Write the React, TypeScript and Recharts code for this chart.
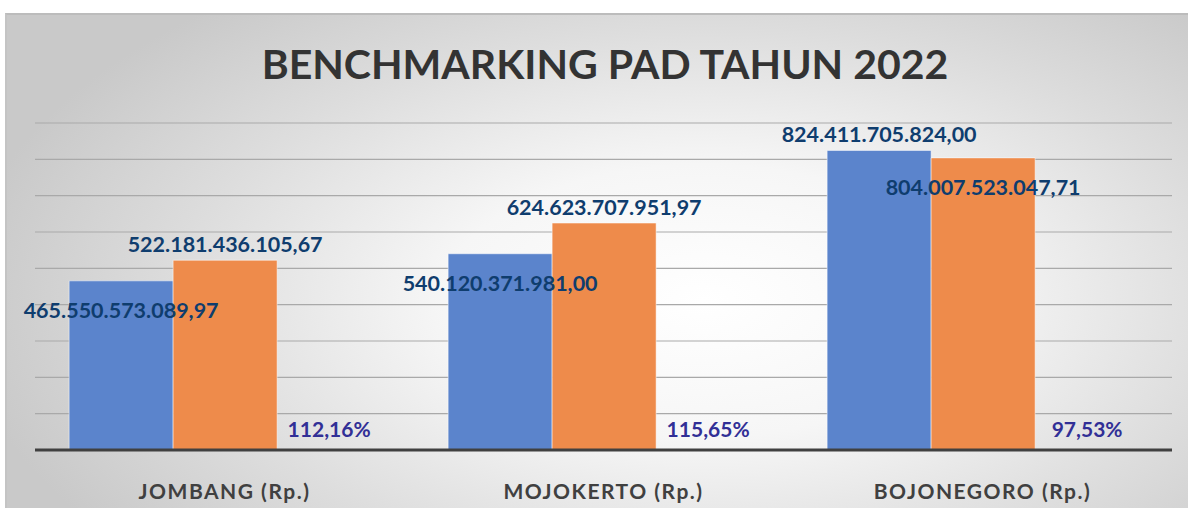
import { BarChart, Bar, XAxis, YAxis, CartesianGrid, LabelList } from "recharts"

const categories = ["JOMBANG (Rp.)", "MOJOKERTO (Rp.)", "BOJONEGORO (Rp.)"]
const target = [465550573089.97, 540120371981.0, 824411705824.0]
const realisasi = [522181436105.67, 624623707951.97, 804007523047.71]
const persen = [112.16, 115.65, 97.53]
const yTicks = [0, 100e9, 200e9, 300e9, 400e9, 500e9, 600e9, 700e9, 800e9, 900e9]

const data = categories.map((name, i) => ({
  name,
  target: target[i],
  realisasi: realisasi[i],
  persen: persen[i],
}))

const FONT = "Lato, 'Open Sans', sans-serif"

// Indonesian number format: 465.550.573.089,97
function formatRp(v: number) {
  const [int, dec] = v.toFixed(2).split(".")
  return int.replace(/\B(?=(\d{3})+(?!\d))/g, ".") + "," + dec
}

function formatPct(v: number) {
  return v.toFixed(2).replace(".", ",") + "%"
}

// taller bar of the pair gets its label above, the shorter one inside
function valueLabel(key: "target" | "realisasi") {
  const other = key === "target" ? "realisasi" : "target"
  return (props: any) => {
    const { x, y, width, index, value } = props
    const row = data[index]
    const above = row[key] >= row[other]
    return (
      <text
        x={x + width / 2}
        y={above ? y - 16 : y + 29}
        textAnchor="middle"
        dominantBaseline="central"
        fill="#0f3d6e"
        fontFamily={FONT}
        fontWeight={700}
        fontSize={21.5}
      >
        {formatRp(value)}
      </text>
    )
  }
}

function pctLabel(props: any) {
  const { x, y, width, height, value } = props
  return (
    <text
      x={x + width / 2}
      y={y + height - 22}
      textAnchor="middle"
      dominantBaseline="central"
      fill="#312f96"
      fontFamily={FONT}
      fontWeight={700}
      fontSize={21}
    >
      {formatPct(value)}
    </text>
  )
}

function CategoryTick(props: any) {
  const { x, y, payload } = props
  return (
    <text
      x={x}
      y={y + 32}
      textAnchor="middle"
      dominantBaseline="central"
      fill="#404040"
      fontFamily={FONT}
      fontWeight={700}
      fontSize={21}
      letterSpacing={1.5}
    >
      {payload.value}
    </text>
  )
}

export default function App() {
  return (
    <div style={{ position: "relative", width: 1188, height: 508, overflow: "hidden" }}>
      <style>{`body{margin:0}`}</style>
      <div
        style={{
          position: "absolute",
          left: 5,
          top: 13,
          width: 1200,
          height: 520,
          borderTop: "2px solid #bcbcbc",
          borderLeft: "2px solid #c4c4c4",
          background:
            "radial-gradient(ellipse 62% 75% at 58% 55%, #ffffff 0%, #f6f6f6 35%, #dddddd 70%, #c9c9c9 100%)",
        }}
      />
      <div
        style={{
          position: "absolute",
          left: 5,
          top: 38,
          width: 1200,
          textAlign: "center",
          fontFamily: FONT,
          fontWeight: 700,
          fontSize: 41,
          lineHeight: "52px",
          color: "#333333",
        }}
      >
        BENCHMARKING PAD TAHUN 2022
      </div>
      <div style={{ position: "absolute", left: 0, top: 0 }}>
        <BarChart
          width={1188}
          height={508}
          data={data}
          margin={{ top: 123, right: 16, bottom: 0, left: 35 }}
          barCategoryGap="9%"
          barGap={0}
        >
          <CartesianGrid vertical={false} stroke="#a9a9a9" strokeWidth={1.2} />
          <XAxis
            dataKey="name"
            height={58}
            interval={0}
            tickLine={false}
            axisLine={{ stroke: "#404040", strokeWidth: 3 }}
            tick={<CategoryTick />}
          />
          <YAxis hide domain={[0, 900e9]} ticks={yTicks} />
          <Bar dataKey="target" fill="#5b84cc" stroke="#ffffff" strokeOpacity={0.5} isAnimationActive={false}>
            <LabelList dataKey="target" content={valueLabel("target")} />
          </Bar>
          <Bar dataKey="realisasi" fill="#ee8b4b" stroke="#ffffff" strokeOpacity={0.5} isAnimationActive={false}>
            <LabelList dataKey="realisasi" content={valueLabel("realisasi")} />
          </Bar>
          <Bar dataKey="persen" fill="none" isAnimationActive={false}>
            <LabelList dataKey="persen" content={pctLabel} />
          </Bar>
        </BarChart>
      </div>
    </div>
  )
}
